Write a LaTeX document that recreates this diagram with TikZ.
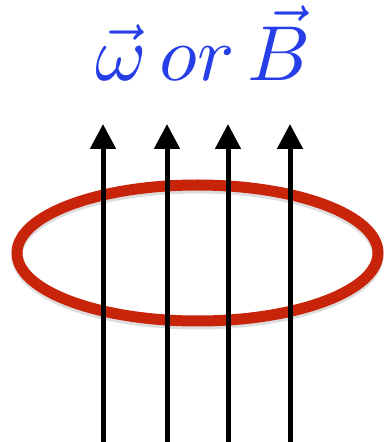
\documentclass[tikz,border=0pt]{standalone}
\usepackage{amsmath,amssymb}
\usepackage{graphicx}
\usepackage{xcolor}
\usepackage{tikz}
\usetikzlibrary{calc,arrows.meta}
\definecolor{loopRed}{RGB}{200,36,10}
\definecolor{fieldBlue}{RGB}{38,62,232}
\definecolor{shadeGray}{RGB}{120,120,120}

\begin{document}
\begin{tikzpicture}[x=1pt,y=1pt,
  fieldline/.style={black, line width=5pt, -{Triangle[width=25pt,length=25pt]}},
  currentloop/.style={loopRed, line width=11pt}]
\useasboundingbox (0,0) rectangle (388,442);

% current loop (with a soft shadow under it)
\coordinate (loopc) at (197.5,189);
\draw[shadeGray, line width=11pt, opacity=0.25] ($(loopc)+(0,-3)$) ellipse [x radius=180.5, y radius=68];
\draw[currentloop] (loopc) ellipse [x radius=180.5, y radius=68];

% field lines
\foreach \i/\xx in {1/103,2/167,3/228,4/290} {
  \coordinate (foot\i) at (\xx,0);
  \coordinate (tip\i) at (\xx,318);
  \draw[fieldline] (foot\i) -- (tip\i);
}

\node[text=fieldBlue, anchor=base, inner sep=0pt] (label) at (203,361) {\scalebox{7.8}{$\vec{\omega}\,or\,\vec{B}$}};
\end{tikzpicture}
\end{document}
